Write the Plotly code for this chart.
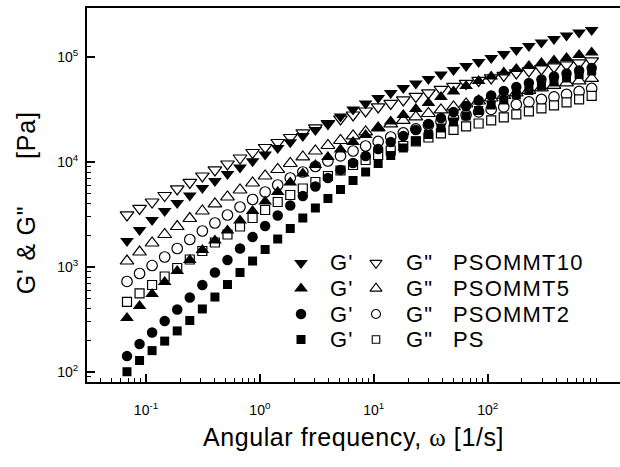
import plotly.graph_objects as go

# Angular frequency sweep [rad/s]
omega = [0.0681, 0.0878, 0.1131, 0.1459, 0.1880, 0.2424, 0.3125, 0.4029, 0.5193, 0.6693,
         0.8627, 1.112, 1.434, 1.848, 2.382, 3.071, 3.958, 5.103, 6.578, 8.480,
         10.93, 14.09, 18.16, 23.41, 30.18, 38.90, 50.14, 64.64, 83.33, 107.4,
         138.5, 178.5, 230.1, 296.6, 382.3, 492.8, 635.3, 818.9]

# Storage modulus G' [Pa]
g1_psommt10 = [1770, 2250, 2800, 3410, 4070, 4800, 5660, 6600, 7700, 8880,
               10200, 11800, 13600, 15500, 17700, 20200, 23300, 27200, 31800, 36300,
               40900, 45600, 51000, 56200, 62100, 68500, 75700, 82600, 90200, 98500,
               107500, 117400, 128200, 138400, 149500, 161400, 172400, 182200]
g1_psommt5 = [325, 424, 551, 718, 914, 1164, 1450, 1786, 2225, 2772,
              3415, 4208, 5184, 6389, 7785, 9382, 11190, 13190, 15550, 18140,
              21160, 24400, 28140, 32120, 36640, 41810, 47180, 53230, 59410, 65580,
              71610, 77340, 82600, 88230, 93220, 98470, 105200, 111100]
g1_psommt2 = [141, 184, 237, 305, 392, 511, 672, 884, 1164, 1498,
              1929, 2457, 3093, 3856, 4749, 5850, 7052, 8405, 9804, 11440,
              13340, 15550, 17740, 20250, 23100, 26350, 30070, 34300, 38710, 43200,
              47700, 52070, 56860, 61430, 65580, 70070, 74860, 79070]
g1_ps = [100, 128, 159, 196, 245, 308, 397, 516, 679, 884,
         1138, 1466, 1846, 2325, 2928, 3648, 4495, 5478, 6673, 8045,
         9698, 11560, 13630, 15900, 18340, 21160, 24140, 27540, 31070, 35070,
         39140, 43690, 48220, 53230, 58110, 63460, 68540, 74000]

# Loss modulus G'' [Pa]
g2_psommt10 = [3130, 3610, 4160, 4800, 5540, 6390, 7370, 8410, 9590, 10940,
               12350, 13780, 15380, 17170, 18960, 21160, 23350, 25780, 28140, 30730,
               33560, 36250, 39140, 42270, 45640, 49290, 52650, 56230, 60060, 63460,
               67050, 70830, 74000, 77340, 80830, 84460, 88230, 92200]
g2_psommt5 = [1138, 1387, 1691, 2038, 2429, 2895, 3415, 3985, 4645, 5418,
              6319, 7369, 8500, 9698, 11190, 12760, 14400, 16070, 17750, 19380,
              21160, 23100, 24950, 26940, 29090, 31420, 33560, 35840, 38280, 40890,
              43200, 45640, 48220, 50950, 53830, 56860, 59410, 62770]
g2_psommt2 = [726, 865, 1031, 1243, 1498, 1826, 2201, 2623, 3127, 3729,
              4397, 5184, 6046, 7052, 8045, 9078, 10240, 11440, 12760, 14240,
              15730, 17360, 18960, 20700, 22590, 24400, 26350, 28140, 30070, 31760,
              33560, 35450, 37460, 39580, 41810, 44170, 47180, 50400]
g2_ps = [463, 558, 672, 810, 976, 1177, 1418, 1709, 2038, 2429,
         2928, 3491, 4162, 4855, 5600, 6459, 7369, 8314, 9382, 10470,
         11690, 12900, 14240, 15730, 17170, 18750, 20250, 21870, 23350, 24950,
         26650, 28460, 30400, 32480, 34690, 37050, 39580, 42730]

samples = ["PSOMMT10", "PSOMMT5", "PSOMMT2", "PS"]
g1_sets = [g1_psommt10, g1_psommt5, g1_psommt2, g1_ps]
g2_sets = [g2_psommt10, g2_psommt5, g2_psommt2, g2_ps]
symbols = ["triangle-down", "triangle-up", "circle", "square"]
sizes = [12, 12, 10.5, 9]

x_ticks = [0.1, 1, 10, 100]
x_ticktext = ["10<sup>-1</sup>", "10<sup>0</sup>", "10<sup>1</sup>", "10<sup>2</sup>"]
y_ticks = [100, 1000, 10000, 100000]
y_ticktext = ["10<sup>2</sup>", "10<sup>3</sup>", "10<sup>4</sup>", "10<sup>5</sup>"]
minor_vals = [m * 10.0 ** e for e in range(-2, 4) for m in range(2, 10)]

FONT = "Liberation Sans, Arial, sans-serif"


def spaced(txt, px):
    return f'<span style="letter-spacing:{px}px">{txt}</span>'


fig = go.Figure()

# open symbols: loss modulus
for name, g2, sym, sz in zip(samples, g2_sets, symbols, sizes):
    fig.add_trace(go.Scatter(
        x=omega, y=g2, mode="markers", name=f'G" {name}', showlegend=False,
        marker=dict(symbol=sym, size=sz, color="white",
                    line=dict(color="black", width=1.2))))

# filled symbols: storage modulus
for name, g1, sym, sz in zip(samples, g1_sets, symbols, sizes):
    fig.add_trace(go.Scatter(
        x=omega, y=g1, mode="markers", name=f"G' {name}", showlegend=False,
        marker=dict(symbol=sym, size=sz, color="black",
                    line=dict(color="black", width=0))))

# key block drawn on a unit overlay axis
key_rows = [0.3182, 0.2500, 0.1818, 0.1136]
key_x_filled = 0.4015
key_x_open = 0.5422
for row_y, name, sym, sz in zip(key_rows, samples, symbols, sizes):
    fig.add_trace(go.Scatter(
        x=[key_x_filled], y=[row_y], xaxis="x2", yaxis="y2", mode="markers",
        showlegend=False, hoverinfo="skip",
        marker=dict(symbol=sym, size=sz, color="black", line=dict(width=0))))
    fig.add_trace(go.Scatter(
        x=[key_x_open], y=[row_y], xaxis="x2", yaxis="y2", mode="markers",
        showlegend=False, hoverinfo="skip",
        marker=dict(symbol=sym, size=sz - 1.5, color="white",
                    line=dict(color="black", width=1.1))))
    for tx, txt in [(0.4522, "G'"), (0.5947, 'G"'), (0.6829, name)]:
        fig.add_annotation(x=tx, y=row_y, xref="paper", yref="paper",
                           text=spaced(txt, 1.2), showarrow=False, xanchor="left",
                           yanchor="middle", font=dict(family=FONT, size=22, color="black"))

axis_common = dict(
    type="log", showline=True, linecolor="black", linewidth=2,
    ticks="inside", ticklen=8, tickwidth=1.5, tickcolor="black",
    showgrid=False, zeroline=False,
    tickfont=dict(family=FONT, size=14, color="black"),
    minor=dict(tickvals=minor_vals, ticks="inside", ticklen=4, tickwidth=1.2,
               tickcolor="black", showgrid=False),
)

fig.update_layout(
    width=620, height=467,
    margin=dict(l=87, r=0, t=8, b=85),
    paper_bgcolor="white", plot_bgcolor="white",
    font=dict(family=FONT, color="black"),
    xaxis=dict(
        axis_common, range=[-1.518, 3.162], mirror=True,
        tickmode="array", tickvals=x_ticks, ticktext=x_ticktext,
        ticklabelstandoff=14,
        title=dict(text=spaced('Angular frequency, <span style="font-family:Liberation Serif">ω</span> [1/s]', 0.6),
                   font=dict(family=FONT, size=25), standoff=12),
    ),
    yaxis=dict(
        axis_common, range=[1.902, 5.470],
        tickmode="array", tickvals=y_ticks, ticktext=y_ticktext,
        ticklabelstandoff=4,
        title=dict(text=spaced('G\' & G"      [Pa]  ', 0.8), font=dict(family=FONT, size=25), standoff=14),
    ),
    xaxis2=dict(overlaying="x", range=[0, 1], visible=False),
    yaxis2=dict(overlaying="y", range=[0, 1], visible=False),
)

fig.write_html("out.html")
